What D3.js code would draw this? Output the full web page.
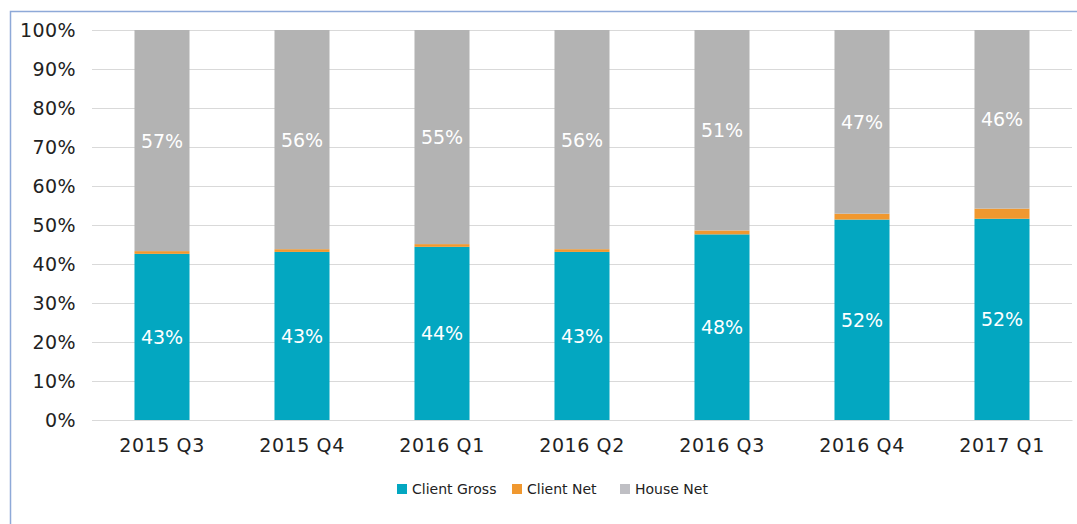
<!DOCTYPE html>
<html>
<head>
<meta charset="utf-8">
<script src="https://cdn.jsdelivr.net/npm/d3@7"></script>
<style>
    html, body { margin: 0; padding: 0; background: #fff; }
    svg { display: block; font-family: "DejaVu Sans", sans-serif; }
</style>
</head>
<body>
<div id="chart"></div>
<script>
/* ===== DATA ===== */
const quarters = ["2015 Q3", "2015 Q4", "2016 Q1", "2016 Q2", "2016 Q3", "2016 Q4", "2017 Q1"];
const clientGross = [42.6, 43.1, 44.4, 43.1, 47.6, 51.4, 51.6];
const clientNet = [0.7, 0.7, 0.7, 0.7, 1.0, 1.5, 2.6];
const houseNet = [56.7, 56.2, 54.9, 56.2, 51.4, 47.1, 45.8];
const grossLabels = ["43%", "43%", "44%", "43%", "48%", "52%", "52%"];
const houseLabels = ["57%", "56%", "55%", "56%", "51%", "47%", "46%"];
const yTicks = [0, 10, 20, 30, 40, 50, 60, 70, 80, 90, 100];

const seriesNames = ["Client Gross", "Client Net", "House Net"];
const seriesColors = {
    "Client Gross": "#03a7c1",
    "Client Net": "#f0982f",
    "House Net": "#b3b3b3"
};
const legendColors = {
    "Client Gross": "#03a7c1",
    "Client Net": "#f0982f",
    "House Net": "#bfbfc4"
};

/* ===== DIMENSIONS ===== */
const width = 1077;
const height = 524;
const margin = { top: 30, right: 5, bottom: 104, left: 92 };

const svg = d3.select("#chart")
    .append("svg")
    .attr("width", width)
    .attr("height", height);

// outer frame
svg.append("rect")
    .attr("x", 10.5)
    .attr("y", 11.5)
    .attr("width", width)
    .attr("height", height)
    .attr("fill", "none")
    .attr("stroke", "#8ea9d8")
    .attr("stroke-width", 1.5);

/* ===== SCALES ===== */
const x = d3.scaleBand()
    .domain(quarters)
    .range([margin.left, width - margin.right])
    .paddingInner(0.607)
    .paddingOuter(0.3035);

const y = d3.scaleLinear()
    .domain([0, 100])
    .range([height - margin.bottom, margin.top]);

/* ===== GRID ===== */
svg.append("g")
    .selectAll("line")
    .data(yTicks)
    .enter()
    .append("line")
    .attr("x1", margin.left)
    .attr("x2", width - margin.right)
    .attr("y1", (d) => Math.round(y(d)) + 0.5)
    .attr("y2", (d) => Math.round(y(d)) + 0.5)
    .attr("stroke", "#d9d9d9")
    .attr("stroke-width", 1.2);

/* ===== Y AXIS ===== */
const yAxis = d3.axisLeft(y)
    .tickValues(yTicks)
    .tickFormat((d) => d + "%")
    .tickSize(0)
    .tickPadding(0);

svg.append("g")
    .attr("transform", `translate(${76},0)`)
    .call(yAxis)
    .call((g) => g.select(".domain").remove())
    .selectAll("text")
    .attr("font-size", 19)
    .attr("letter-spacing", 0.4)
    .attr("fill", "#222")
    .attr("font-family", "DejaVu Sans, sans-serif");

/* ===== STACKED BARS ===== */
const rows = quarters.map((q, i) => ({
    quarter: q,
    "Client Gross": clientGross[i],
    "Client Net": clientNet[i],
    "House Net": houseNet[i]
}));

const stacked = d3.stack().keys(seriesNames)(rows);

svg.append("g")
    .selectAll("g")
    .data(stacked)
    .enter()
    .append("g")
    .attr("fill", (d) => seriesColors[d.key])
    .selectAll("rect")
    .data((d) => d)
    .enter()
    .append("rect")
    .attr("x", (d) => x(d.data.quarter))
    .attr("width", x.bandwidth())
    .attr("y", (d) => y(d[1]))
    .attr("height", (d) => y(d[0]) - y(d[1]));

/* ===== X AXIS ===== */
const xAxis = d3.axisBottom(x).tickSize(0).tickPadding(0);

svg.append("g")
    .attr("transform", `translate(0,${height - margin.bottom})`)
    .call(xAxis)
    .call((g) => g.select(".domain")
        .attr("stroke", "#d9d9d9")
        .attr("stroke-width", 1.2))
    .selectAll("text")
    .attr("dy", 0)
    .attr("y", 32)
    .attr("font-size", 19)
    .attr("letter-spacing", 0.6)
    .attr("fill", "#222")
    .attr("font-family", "DejaVu Sans, sans-serif");

/* ===== DATA LABELS ===== */
const labelGroup = svg.append("g")
    .attr("fill", "#fff")
    .attr("font-size", 19)
    .attr("text-anchor", "middle");

labelGroup.selectAll(".gross-label")
    .data(stacked[0])
    .enter()
    .append("text")
    .attr("class", "gross-label")
    .attr("x", (d) => x(d.data.quarter) + x.bandwidth() / 2)
    .attr("y", (d) => (y(d[0]) + y(d[1])) / 2 + 7)
    .text((d, i) => grossLabels[i]);

labelGroup.selectAll(".house-label")
    .data(stacked[2])
    .enter()
    .append("text")
    .attr("class", "house-label")
    .attr("x", (d) => x(d.data.quarter) + x.bandwidth() / 2)
    .attr("y", (d) => (y(d[0]) + y(d[1])) / 2 + 7)
    .text((d, i) => houseLabels[i]);

/* ===== LEGEND ===== */
const legendX = [397, 512, 620];
const legend = svg.append("g")
    .selectAll("g")
    .data(seriesNames)
    .enter()
    .append("g")
    .attr("transform", (d, i) => `translate(${legendX[i]},${484})`);

legend.append("rect")
    .attr("width", 10)
    .attr("height", 10)
    .attr("fill", (d) => legendColors[d]);

legend.append("text")
    .attr("x", 15)
    .attr("y", 10)
    .attr("font-size", 14)
    .attr("fill", "#222")
    .text((d) => d);
</script>
</body>
</html>
